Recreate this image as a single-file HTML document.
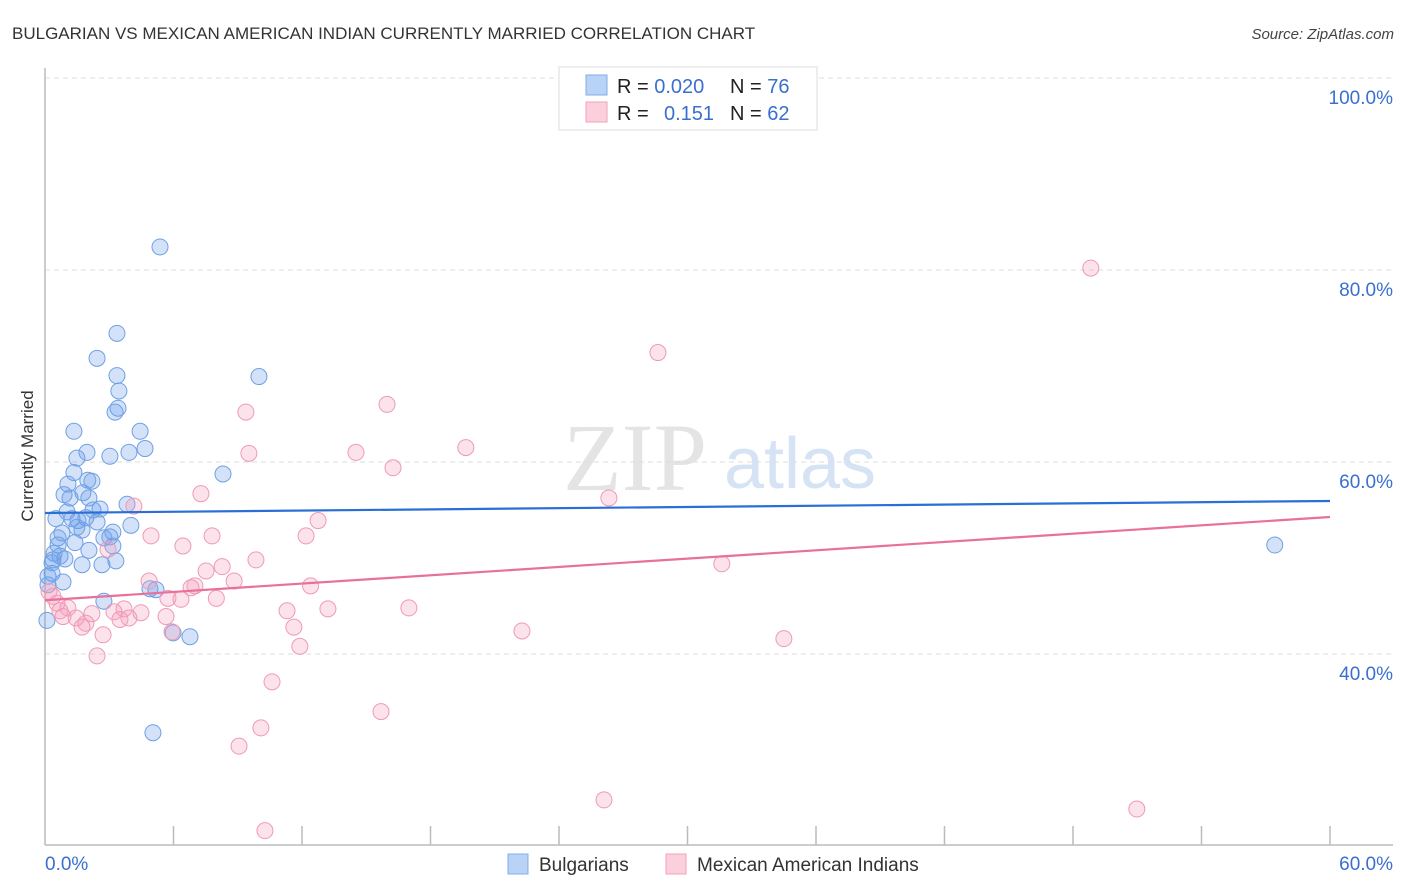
<!DOCTYPE html>
<html><head><meta charset="utf-8"><style>
body{margin:0;background:#fff;font-family:"Liberation Sans",sans-serif}
svg{display:block}
</style></head><body>
<svg id="c" width="1406" height="892" xmlns="http://www.w3.org/2000/svg">
<text x="12" y="39" font-size="17" fill="#333">BULGARIAN VS MEXICAN AMERICAN INDIAN CURRENTLY MARRIED CORRELATION CHART</text>
<text x="1394" y="39" font-size="15" fill="#444" text-anchor="end" font-style="italic">Source: ZipAtlas.com</text>
<text transform="translate(33,456) rotate(-90)" font-size="17" fill="#333" text-anchor="middle">Currently Married</text>
<g>
<text x="635" y="490" font-size="96" fill="#e4e4e4" font-family="Liberation Serif,serif" text-anchor="middle">ZIP</text>
<text x="800" y="488" font-size="72" fill="#d5e3f5" text-anchor="middle">atlas</text>
</g>
<g id="grid"></g>
<g id="axes"></g>
<g id="pts"></g>
<g id="lines"></g>
<g>
<rect x="559" y="67" width="258" height="63" fill="#fff" stroke="#ddd"/>
<rect x="586" y="75" width="21" height="20" fill="#b8d3f5" stroke="#80aee8"/>
<rect x="586" y="102" width="21" height="20" fill="#fbd0dc" stroke="#f0a0b8"/>
<text x="617" y="93" font-size="20" fill="#222">R = <tspan fill="#3a6fd0">0.020</tspan></text>
<text x="730" y="93" font-size="20" fill="#222">N = <tspan fill="#3a6fd0">76</tspan></text>
<text x="617" y="120" font-size="20" fill="#222">R = </text>
<text x="664" y="120" font-size="20" fill="#3a6fd0">0.151</text>
<text x="730" y="120" font-size="20" fill="#222">N = <tspan fill="#3a6fd0">62</tspan></text>
</g>
<g>
<rect x="508" y="854" width="20" height="20" fill="#b8d3f5" stroke="#80aee8"/>
<text x="539" y="871" font-size="19" fill="#333">Bulgarians</text>
<rect x="666" y="854" width="20" height="20" fill="#fbd0dc" stroke="#f0a0b8"/>
<text x="697" y="871" font-size="19" fill="#333">Mexican American Indians</text>
</g>
</svg>
<script>
const blueX=[5.37,3.36,2.43,9.99,3.36,3.45,3.41,3.27,1.35,4.44,4.67,3.92,1.96,3.03,1.49,8.31,1.35,2.0,2.19,1.07,1.77,0.89,1.17,2.05,3.83,2.57,2.24,1.03,0.51,1.26,1.54,1.91,2.43,4.01,1.49,1.73,0.79,0.61,3.17,3.03,2.75,1.40,0.61,3.17,2.05,0.42,0.70,0.37,0.93,3.31,0.33,1.73,2.66,0.33,0.14,0.84,0.14,4.90,5.18,2.75,0.09,5.98,6.77,5.04,57.42];
const blueY=[82.4,73.4,70.8,68.9,69.0,67.4,65.6,65.2,63.2,63.2,61.4,61.0,61.0,60.6,60.4,58.75,58.9,58.1,58.0,57.7,56.8,56.6,56.25,56.25,55.6,55.1,55.0,54.8,54.1,54.1,53.9,54.2,53.75,53.4,53.2,52.9,52.6,52.1,52.7,52.2,52.1,51.6,51.35,51.25,50.8,50.5,50.2,49.8,49.9,49.7,49.5,49.3,49.3,48.4,48.1,47.5,47.2,46.8,46.7,45.5,43.5,42.2,41.8,31.8,51.35];
const pinkX=[48.83,28.62,15.97,9.38,19.65,14.52,9.52,16.25,7.28,26.33,4.15,12.75,4.95,12.19,7.80,6.44,2.94,9.85,31.6,8.27,7.52,8.83,4.86,12.4,7.0,6.82,0.19,0.37,5.74,6.35,8.0,0.56,1.07,0.70,16.99,13.21,11.3,3.69,3.22,4.48,2.19,0.84,1.45,5.65,3.92,3.5,1.91,1.73,11.62,22.27,5.93,2.71,34.5,11.9,2.43,10.6,15.69,10.08,9.06,26.1,50.98,10.27];
const pinkY=[80.2,71.4,66.0,65.2,61.5,61.0,60.9,59.4,56.7,56.25,55.4,53.9,52.3,52.3,52.3,51.25,50.9,49.8,49.4,49.1,48.65,47.6,47.6,47.1,47.1,46.9,46.5,46.0,45.8,45.7,45.8,45.3,44.8,44.5,44.8,44.7,44.5,44.7,44.4,44.3,44.2,43.9,43.75,43.9,43.75,43.6,43.2,42.8,42.8,42.4,42.3,42.0,41.6,40.8,39.8,37.1,34.0,32.3,30.4,24.8,23.85,21.6];
const blueTrend=[54.69,55.94];
const pinkTrend=[45.6,54.27];
const yTicks=[100,80,60,40];
const yTickLabels=["100.0%","80.0%","60.0%","40.0%"];
const xTicks=[0,6,12,18,24,30,36,42,48,54,60];
const xs=v=>45+v*1285/60;
const ys=v=>78+(100-v)*9.6;
const NS="http://www.w3.org/2000/svg";
function mk(p,t,a){const e=document.createElementNS(NS,t);for(const k in a)e.setAttribute(k,a[k]);document.getElementById(p).appendChild(e);return e;}
yTicks.forEach((v,i)=>{
 const l=mk('grid','line',{x1:45,x2:1393,y1:ys(v),y2:ys(v),stroke:'#ddd','stroke-dasharray':'5,4'});
 
 
 const t=mk('grid','text',{x:1393,y:ys(v)+26,'font-size':19,fill:'#3a6fd0','text-anchor':'end'});
 t.textContent=yTickLabels[i];
 
 
});
let a=mk('axes','line',{x1:45,x2:45,y1:68,y2:845,stroke:'#bbb','stroke-width':1.5});


a=mk('axes','line',{x1:45,x2:1393,y1:845,y2:845,stroke:'#bbb','stroke-width':1.5});


xTicks.slice(1).forEach(v=>{
 const t=mk('axes','line',{x1:xs(v),x2:xs(v),y1:826,y2:845,stroke:'#bbb','stroke-width':1.5});
 
 
});
let t=mk('axes','text',{x:45,y:870,'font-size':19,fill:'#3a6fd0'});t.textContent='0.0%';


t=mk('axes','text',{x:1393,y:870,'font-size':19,fill:'#3a6fd0','text-anchor':'end'});t.textContent='60.0%';


blueX.forEach((x,i)=>{
 const c=mk('pts','circle',{cx:xs(x),cy:ys(blueY[i]),r:8,fill:'rgba(110,160,235,0.3)',stroke:'#6fa0e4','stroke-width':1});
 
 
});
pinkX.forEach((x,i)=>{
 const c=mk('pts','circle',{cx:xs(x),cy:ys(pinkY[i]),r:8,fill:'rgba(245,160,190,0.3)',stroke:'#ee9ab6','stroke-width':1});
 
 
});
let l=mk('lines','line',{x1:xs(0),x2:xs(60),y1:ys(blueTrend[0]),y2:ys(blueTrend[1]),stroke:'#2a6fd6','stroke-width':2.2});


l=mk('lines','line',{x1:xs(0),x2:xs(60),y1:ys(pinkTrend[0]),y2:ys(pinkTrend[1]),stroke:'#e8709a','stroke-width':2.2});


</script>
</body></html>
